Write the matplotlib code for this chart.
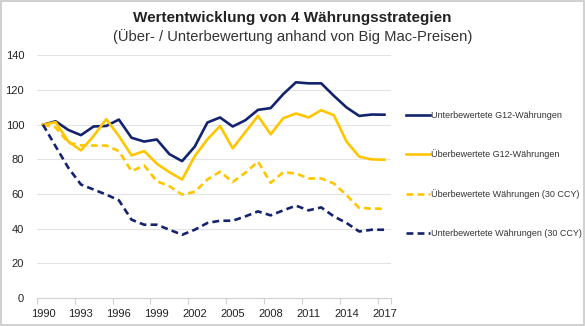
import matplotlib.pyplot as plt
import numpy as np
from matplotlib.patches import Rectangle

plt.rcParams['font.family'] = ['Liberation Sans', 'DejaVu Sans']

years = list(range(1990, 2018))

under_g12 = [100, 102, 97, 94, 99, 99.3, 103, 92.5, 90.3, 91.5, 83, 79,
             87.4, 101.3, 104.2, 99, 102.6, 108.6, 109.6, 117.7, 124.5, 123.9,
             123.9, 116.7, 110, 105.1, 105.9, 105.8]
over_g12 = [100, 101.5, 90.3, 85.2, 93.5, 103.2, 93.5, 82.3, 84.8, 77.5, 72.6, 68.4,
            81.9, 91.6, 99.3, 86.4, 95.8, 105.1, 94.5, 103.8, 106.5, 104.2,
            108.4, 105.5, 90.3, 81.6, 80, 79.8]
over_30 = [100, 98.4, 89.7, 88.1, 88, 88, 84.8, 73.2, 76.5, 67.4, 64.5, 59.7,
           61.3, 68.4, 72.9, 67, 72.3, 78.7, 66.5, 72.6, 71.9, 69,
           69, 66.1, 59.3, 52, 51.6, 51.5]
under_30 = [100, 87.5, 75.2, 65.5, 62.6, 59.7, 56.4, 45.2, 42.3, 42.3, 39.4, 36.5,
            39.4, 43.3, 44.6, 44.6, 47.1, 50, 47.7, 50.6, 53.3, 50.6,
            52.3, 47.1, 43.3, 38.4, 39.4, 39.4]

labels = ['Unterbewertete G12-Währungen', 'Überbewertete G12-Währungen',
          'Überbewertete Währungen (30 CCY)', 'Unterbewertete Währungen (30 CCY)']

navy = '#14236E'
gold = '#FFC600'
dash = (0, (2.6, 1.6))

fig = plt.figure(figsize=(5.85, 3.26), dpi=100)
ax = fig.add_axes([0.0627, 0.0859, 0.6053, 0.744])

ax.plot(years, under_g12, color=navy, lw=1.9, label=labels[0])
ax.plot(years, over_g12, color=gold, lw=1.9, label=labels[1])
ax.plot(years, over_30, color=gold, lw=1.9, ls=dash, label=labels[2])
ax.plot(years, under_30, color=navy, lw=1.9, ls=dash, label=labels[3])

ax.set_xlim(1989.5, 2017.5)
ax.set_ylim(0, 140)
ax.set_yticks(np.arange(0, 141, 20))
ax.set_xticks(years[::3])
ax.set_xticks([y - 0.5 for y in years[::3]] + [2017.5], minor=True)
ax.tick_params(axis='x', which='major', length=0, pad=8, labelsize=8, colors='#222222')
ax.tick_params(axis='x', which='minor', length=4, color='#d0d0d0', width=0.8)
ax.tick_params(axis='y', length=0, pad=9, labelsize=8, colors='#222222')

ax.grid(axis='y', color='#e3e3e3', lw=0.8)
ax.set_axisbelow(True)
for s in ['top', 'right', 'left']:
    ax.spines[s].set_visible(False)
ax.spines['bottom'].set_color('#d0d0d0')
ax.spines['bottom'].set_linewidth(0.8)

ax.legend(loc='upper left', bbox_to_anchor=(1.033, 0.787), frameon=False,
          fontsize=6.5, labelspacing=3.3, handlelength=2.6, handletextpad=0.15,
          labelcolor='#333333', borderaxespad=0)

fig.text(0.5, 0.945, 'Wertentwicklung von 4 Währungsstrategien', ha='center', va='center',
         fontsize=11, fontweight='bold', color='#222222')
fig.text(0.5, 0.887, '(Über- / Unterbewertung anhand von Big Mac-Preisen)', ha='center',
         va='center', fontsize=10.6, color='#333333')

fig.patches.append(Rectangle((0.001, 0.002), 0.997, 0.996, transform=fig.transFigure,
                             fill=False, edgecolor='#c8c8c8', lw=1.2))

fig.savefig('out.png', dpi=100)
